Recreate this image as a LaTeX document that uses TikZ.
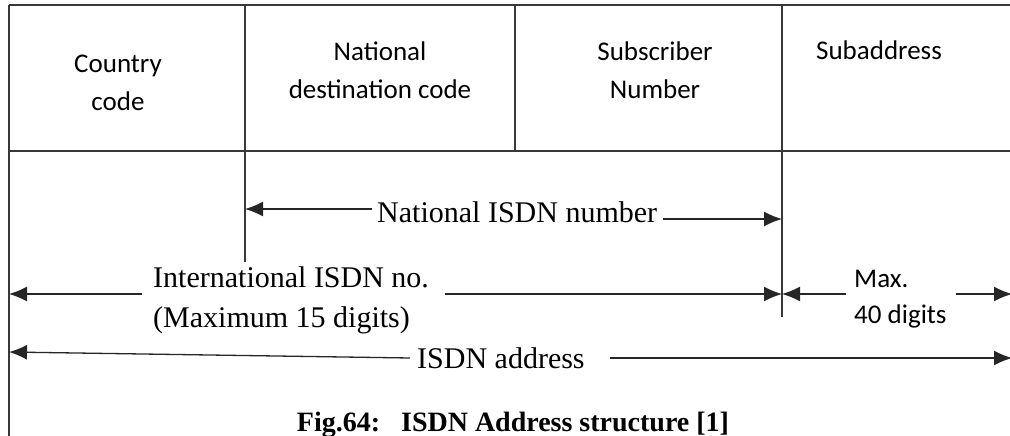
\documentclass[tikz,border=0pt]{standalone}
\usepackage{fontspec}
\setmainfont{Liberation Serif}
\newfontfamily\cellfont{Carlito}
\usetikzlibrary{arrows.meta}

\begin{document}
\begin{tikzpicture}[x=1pt,y=-1pt,
  rule/.style={line width=1.6pt, draw=black!78},
  dimline/.style={line width=1.3pt, draw=black!85},
  dimarrow/.style={dimline, -{Latex[length=18pt,width=15pt]}},
  cell/.style={font=\cellfont\fontsize{27}{38}\selectfont, align=center, inner sep=0pt},
  smallcell/.style={font=\cellfont\fontsize{27}{36}\selectfont, align=left, inner sep=0pt},
  lbl/.style={font=\fontsize{30}{40}\selectfont, inner sep=0pt},
  caption/.style={font=\bfseries\fontsize{28}{34}\selectfont, inner sep=0pt},
]
\useasboundingbox (0,0) rectangle (1010,436);

% table frame and separators
\coordinate (tl) at (9,5);
\coordinate (tr) at (1014,5);
\coordinate (ml) at (9,151);
\coordinate (mr) at (1014,151);
\coordinate (bl) at (9,440);
\coordinate (c1t) at (245,5);
\coordinate (c1b) at (245,262);
\coordinate (c2t) at (515,5);
\coordinate (c2b) at (515,151);
\coordinate (c3t) at (782,5);
\coordinate (c3b) at (782,317);
\draw[rule] (tl) -- (tr);
\draw[rule] (ml) -- (mr);
\draw[rule] (tl) -- (bl);
\draw[rule] (c1t) -- (c1b);
\draw[rule] (c2t) -- (c2b);
\draw[rule] (c3t) -- (c3b);

% field names
\node[cell, anchor=north] (cc)  at (118,45.4) {\strut Country\\\strut code};
\node[cell, anchor=north] (ndc) at (380,33.4) {\strut National\\\strut destination code};
\node[cell, anchor=north] (sn)  at (655,33.4) {\strut Subscriber\\\strut Number};
\node[cell, anchor=base]  (sa)  at (879,60) {Subaddress};

% National ISDN number
\node[lbl, anchor=base west] (nat) at (377,222) {National ISDN number};
\coordinate (natA) at (372,209);
\coordinate (natL) at (245,209);
\coordinate (natB) at (663,219);
\coordinate (natR) at (782,219);
\draw[dimarrow] (natA) -- (natL);
\draw[dimarrow] (natB) -- (natR);

% International ISDN number
\node[lbl, align=left, anchor=north west] (intl) at (153,259) {\strut International ISDN no.\\\strut (Maximum 15 digits)};
\coordinate (intA) at (142,294);
\coordinate (intL) at (9,294);
\coordinate (intB) at (445,294);
\coordinate (intR) at (782,294);
\draw[dimarrow] (intA) -- (intL);
\draw[dimarrow] (intB) -- (intR);

% Subaddress length
\node[smallcell, anchor=north west] (max) at (854,261.8) {\strut Max.\\\strut 40 digits};
\coordinate (maxA) at (846,294);
\coordinate (maxL) at (782,294);
\coordinate (maxB) at (956,294);
\coordinate (maxR) at (1012,294);
\draw[dimarrow] (maxA) -- (maxL);
\draw[dimarrow] (maxB) -- (maxR);

% ISDN address
\node[lbl, anchor=base west] (addr) at (417,368) {ISDN address};
\coordinate (adA) at (410,358);
\coordinate (adL) at (9,352);
\coordinate (adB) at (610,358);
\coordinate (adR) at (1012,358);
\draw[dimarrow] (adA) -- (adL);
\draw[dimarrow] (adB) -- (adR);

% caption
\node[caption, anchor=base] (cap) at (513,431) {Fig.64:\hspace{0.75em}ISDN Address structure [1]};
\end{tikzpicture}
\end{document}
